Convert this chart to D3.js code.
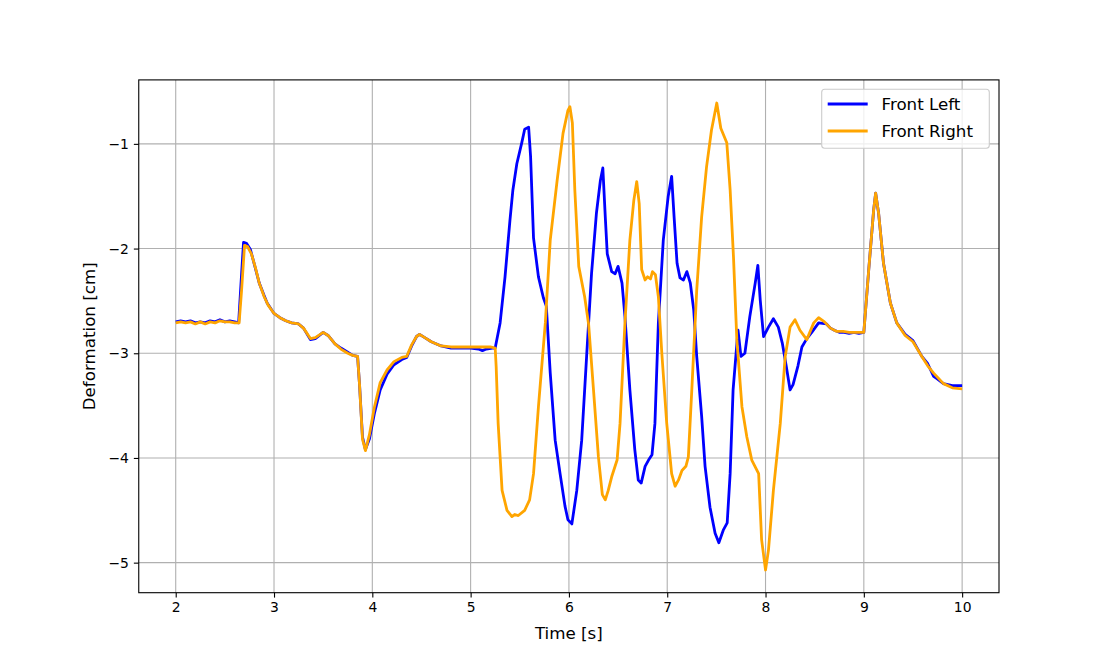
<!DOCTYPE html>
<html>
<head>
<meta charset="utf-8">
<script src="https://cdn.jsdelivr.net/npm/d3@7"></script>
<style>
  html, body { margin: 0; padding: 0; background: #fff; }
  svg { display: block; font-family: "DejaVu Sans", sans-serif; }
</style>
</head>
<body>
<svg id="chart" width="1110" height="666"></svg>
<script>
// ---------------- data ----------------
const timeFL = [2.00,2.05,2.10,2.15,2.20,2.25,2.30,2.35,2.40,2.45,2.50,2.55,2.60,2.64,2.66,2.69,2.72,2.76,2.80,2.85,2.90,2.93,3.00,3.06,3.12,3.18,3.25,3.30,3.37,3.42,3.50,3.55,3.62,3.68,3.75,3.80,3.85,3.87,3.90,3.93,3.97,4.02,4.08,4.15,4.22,4.30,4.35,4.40,4.45,4.48,4.55,4.60,4.70,4.80,4.90,5.00,5.08,5.12,5.16,5.22,5.25,5.30,5.35,5.40,5.43,5.47,5.52,5.55,5.59,5.61,5.64,5.69,5.74,5.77,5.81,5.86,5.91,5.96,5.99,6.03,6.08,6.13,6.18,6.23,6.28,6.32,6.345,6.37,6.39,6.435,6.47,6.50,6.54,6.57,6.62,6.67,6.705,6.735,6.775,6.81,6.845,6.875,6.91,6.96,7.01,7.045,7.07,7.10,7.13,7.165,7.20,7.235,7.27,7.30,7.35,7.385,7.435,7.487,7.525,7.57,7.61,7.64,7.67,7.72,7.75,7.79,7.84,7.895,7.922,7.946,7.98,8.03,8.08,8.13,8.17,8.21,8.25,8.28,8.33,8.37,8.42,8.47,8.54,8.62,8.66,8.70,8.75,8.80,8.85,8.90,8.95,9.00,9.05,9.10,9.12,9.15,9.20,9.27,9.335,9.42,9.50,9.59,9.65,9.71,9.74,9.81,9.90,10.00];
const frontLeft = [-2.70,-2.69,-2.70,-2.69,-2.71,-2.70,-2.71,-2.69,-2.70,-2.68,-2.70,-2.69,-2.70,-2.71,-2.40,-1.94,-1.95,-2.01,-2.15,-2.33,-2.45,-2.52,-2.62,-2.66,-2.69,-2.71,-2.72,-2.76,-2.87,-2.86,-2.80,-2.83,-2.91,-2.95,-2.99,-3.02,-3.03,-3.30,-3.80,-3.92,-3.82,-3.58,-3.35,-3.20,-3.11,-3.06,-3.04,-2.93,-2.84,-2.82,-2.86,-2.89,-2.93,-2.95,-2.95,-2.95,-2.96,-2.975,-2.96,-2.95,-2.95,-2.71,-2.27,-1.73,-1.44,-1.19,-0.99,-0.86,-0.84,-1.12,-1.90,-2.27,-2.47,-2.55,-3.19,-3.83,-4.15,-4.46,-4.59,-4.63,-4.31,-3.83,-3.03,-2.24,-1.66,-1.35,-1.23,-1.70,-2.05,-2.22,-2.24,-2.17,-2.33,-2.65,-3.35,-3.92,-4.21,-4.24,-4.08,-4.02,-3.97,-3.67,-2.71,-1.92,-1.50,-1.31,-1.70,-2.14,-2.28,-2.30,-2.22,-2.33,-2.59,-3.03,-3.60,-4.08,-4.47,-4.72,-4.81,-4.69,-4.62,-4.15,-3.35,-2.78,-3.03,-3.00,-2.65,-2.33,-2.16,-2.49,-2.84,-2.75,-2.67,-2.75,-2.90,-3.12,-3.35,-3.30,-3.12,-2.94,-2.86,-2.80,-2.71,-2.72,-2.76,-2.78,-2.80,-2.80,-2.81,-2.80,-2.81,-2.80,-2.20,-1.63,-1.47,-1.66,-2.14,-2.52,-2.71,-2.82,-2.88,-3.03,-3.10,-3.22,-3.24,-3.29,-3.31,-3.31];

const timeFR = [2.00,2.05,2.10,2.15,2.20,2.25,2.30,2.35,2.40,2.45,2.50,2.55,2.60,2.645,2.67,2.70,2.73,2.77,2.81,2.85,2.90,2.94,3.00,3.06,3.12,3.18,3.25,3.30,3.37,3.42,3.50,3.55,3.62,3.68,3.75,3.80,3.85,3.87,3.90,3.93,3.97,4.02,4.08,4.15,4.22,4.30,4.35,4.40,4.45,4.48,4.55,4.60,4.70,4.80,4.90,5.00,5.10,5.20,5.25,5.26,5.28,5.32,5.37,5.42,5.45,5.485,5.55,5.60,5.64,5.69,5.76,5.81,5.88,5.94,5.99,6.01,6.035,6.06,6.10,6.16,6.20,6.25,6.30,6.34,6.37,6.40,6.435,6.49,6.52,6.57,6.62,6.66,6.69,6.715,6.74,6.775,6.80,6.83,6.85,6.88,6.91,6.945,6.995,7.045,7.08,7.115,7.15,7.19,7.215,7.25,7.30,7.35,7.40,7.45,7.504,7.545,7.606,7.64,7.674,7.708,7.76,7.81,7.86,7.93,7.96,8.00,8.03,8.08,8.15,8.20,8.25,8.30,8.35,8.42,8.49,8.54,8.60,8.66,8.72,8.79,8.85,8.90,9.00,9.05,9.10,9.12,9.15,9.20,9.27,9.335,9.42,9.50,9.59,9.65,9.71,9.81,9.90,10.00];
const frontRight = [-2.71,-2.70,-2.71,-2.70,-2.72,-2.70,-2.72,-2.70,-2.71,-2.69,-2.70,-2.70,-2.71,-2.71,-2.40,-1.97,-1.98,-2.05,-2.18,-2.33,-2.46,-2.54,-2.62,-2.66,-2.69,-2.71,-2.72,-2.76,-2.86,-2.85,-2.80,-2.83,-2.91,-2.96,-3.00,-3.02,-3.03,-3.30,-3.82,-3.93,-3.78,-3.52,-3.28,-3.16,-3.08,-3.04,-3.03,-2.92,-2.84,-2.82,-2.86,-2.89,-2.93,-2.94,-2.94,-2.94,-2.94,-2.94,-2.95,-3.13,-3.67,-4.31,-4.50,-4.56,-4.54,-4.55,-4.50,-4.40,-4.15,-3.51,-2.71,-1.92,-1.35,-0.90,-0.68,-0.645,-0.80,-1.44,-2.17,-2.46,-2.72,-3.35,-3.99,-4.35,-4.40,-4.31,-4.18,-4.02,-3.67,-2.71,-1.92,-1.54,-1.36,-1.57,-2.20,-2.30,-2.27,-2.29,-2.22,-2.25,-2.46,-3.00,-3.67,-4.15,-4.27,-4.21,-4.12,-4.08,-3.99,-3.35,-2.40,-1.70,-1.22,-0.87,-0.61,-0.85,-0.99,-1.44,-2.08,-2.87,-3.51,-3.80,-4.02,-4.15,-4.78,-5.07,-4.88,-4.31,-3.67,-3.03,-2.75,-2.68,-2.78,-2.87,-2.71,-2.66,-2.70,-2.76,-2.79,-2.79,-2.80,-2.80,-2.80,-2.20,-1.63,-1.47,-1.66,-2.14,-2.52,-2.71,-2.83,-2.89,-3.03,-3.12,-3.19,-3.29,-3.33,-3.34];

const xTicks = [2,3,4,5,6,7,8,9,10];
const xTickLabels = ["2","3","4","5","6","7","8","9","10"];
const yTicks = [-1,-2,-3,-4,-5];
const yTickLabels = ["\u22121","\u22122","\u22123","\u22124","\u22125"];
const seriesNames = ["Front Left","Front Right"];
const seriesColors = ["#0000ff","#ffa500"];

// ---------------- layout ----------------
const svg = d3.select("#chart");
const pL = 138.75, pR = 999, pT = 79.9, pB = 592.7;

const x = d3.scaleLinear().domain([1.624, 10.375]).range([pL, pR]);
const y = d3.scaleLinear().domain([-5.287, -0.389]).range([pB, pT]);

// grid
const grid = svg.append("g");
grid.selectAll("line.gx").data(xTicks).enter().append("line")
  .attr("x1", d => x(d)).attr("x2", d => x(d))
  .attr("y1", pT).attr("y2", pB)
  .attr("stroke", "#b0b0b0").attr("stroke-width", 1.1);
grid.selectAll("line.gy").data(yTicks).enter().append("line")
  .attr("x1", pL).attr("x2", pR)
  .attr("y1", d => y(d)).attr("y2", d => y(d))
  .attr("stroke", "#b0b0b0").attr("stroke-width", 1.1);

// lines
svg.append("clipPath").attr("id", "clip").append("rect")
  .attr("x", pL).attr("y", pT).attr("width", pR - pL).attr("height", pB - pT);

const series = [
  { name: seriesNames[0], t: timeFL, v: frontLeft, color: seriesColors[0] },
  { name: seriesNames[1], t: timeFR, v: frontRight, color: seriesColors[1] }
];
const line = d3.line().x(d => x(d[0])).y(d => y(d[1]));
svg.append("g").attr("clip-path", "url(#clip)")
  .selectAll("path").data(series).enter().append("path")
  .attr("d", s => line(d3.zip(s.t, s.v)))
  .attr("fill", "none")
  .attr("stroke", s => s.color)
  .attr("stroke-width", 2.8)
  .attr("stroke-linejoin", "round")
  .attr("stroke-linecap", "butt");

// axes
const xAxis = d3.axisBottom(x).tickValues(xTicks).tickFormat((d, i) => xTickLabels[i]).tickSize(4.9).tickPadding(4.9);
const yAxis = d3.axisLeft(y).tickValues(yTicks).tickFormat((d, i) => yTickLabels[i]).tickSize(4.9).tickPadding(4.9);

const gx = svg.append("g").attr("transform", `translate(0,${pB})`).call(xAxis);
const gy = svg.append("g").attr("transform", `translate(${pL},0)`).call(yAxis);
[gx, gy].forEach(g => {
  g.select(".domain").remove();
  g.selectAll(".tick line").attr("stroke", "#000").attr("stroke-width", 1.1);
  g.selectAll(".tick text").attr("fill", "#000")
    .style("font-family", "'DejaVu Sans', sans-serif").style("font-size", "13.9px");
});

// frame
svg.append("rect").attr("x", pL).attr("y", pT)
  .attr("width", pR - pL).attr("height", pB - pT)
  .attr("fill", "none").attr("stroke", "#000").attr("stroke-width", 1.1);

// axis labels
svg.append("text").attr("x", (pL + pR) / 2).attr("y", 639)
  .attr("text-anchor", "middle").style("font-size", "16.7px").attr("fill", "#000")
  .text("Time [s]");
svg.append("text")
  .attr("transform", `translate(95,${(pT + pB) / 2}) rotate(-90)`)
  .attr("text-anchor", "middle").style("font-size", "16.7px").attr("fill", "#000")
  .text("Deformation [cm]");

// legend
const lg = svg.append("g");
lg.append("rect").attr("x", 821.7).attr("y", 89.3).attr("width", 167.6).attr("height", 59)
  .attr("rx", 3).attr("ry", 3)
  .attr("fill", "#fff").attr("fill-opacity", 0.8)
  .attr("stroke", "#cccccc").attr("stroke-width", 1.1);
series.forEach((s, i) => {
  const yy = 104 + i * 27;
  lg.append("line").attr("x1", 827.7).attr("x2", 867.7).attr("y1", yy).attr("y2", yy)
    .attr("stroke", s.color).attr("stroke-width", 2.8);
  lg.append("text").attr("x", 881.5).attr("y", yy).attr("dy", "0.36em")
    .style("font-size", "16.7px").attr("fill", "#000").text(s.name);
});
</script>
</body>
</html>
